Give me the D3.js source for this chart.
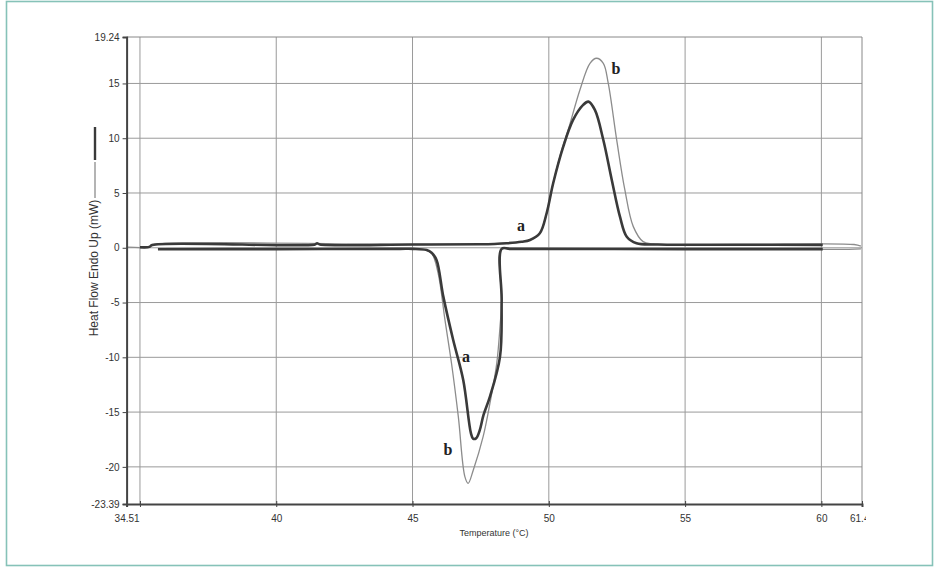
<!DOCTYPE html>
<html>
<head>
<meta charset="utf-8">
<script src="https://cdn.jsdelivr.net/npm/d3@7/dist/d3.min.js"></script>
<style>
  html, body { margin: 0; padding: 0; background: #fff; }
  svg { display: block; }
  .tick text, .axis-title { font-family: "Liberation Sans Narrow", "Arial Narrow", "Liberation Sans", Arial, sans-serif; fill: #333; }
</style>
</head>
<body>
<svg id="chart" width="940" height="572"></svg>
<script>
// Temperature ticks (°C) and heat-flow ticks (mW)
const xTicks = [34.51, 35, 40, 45, 50, 55, 60, 61.49];
const xTickLabels = ["34.51", "", "40", "45", "50", "55", "60", "61.49"];
const yTicks = [-23.39, -20, -15, -10, -5, 0, 5, 10, 15, 19.24];
const yTickLabels = ["-23.39", "-20", "-15", "-10", "-5", "0", "5", "10", "15", "19.24"];
const xGrid = [35, 40, 45, 50, 55, 60];
const yGrid = [-20, -15, -10, -5, 0, 5, 10, 15];

// Sample a: heating scan (endotherm) and cooling scan (exotherm), [T °C, mW]
const aHeating = [
  [35.00, 0.05], [35.35, 0.08], [35.45, 0.26], [41.40, 0.28], [41.50, 0.40], [41.60, 0.30],
  [45.00, 0.30], [47.50, 0.32], [48.00, 0.35], [48.45, 0.41], [49.00, 0.55], [49.31, 0.71],
  [49.67, 1.32], [49.92, 3.15], [50.16, 5.89], [50.53, 9.23], [50.89, 11.67], [51.26, 13.04],
  [51.45, 13.34], [51.69, 12.58], [52.00, 9.84], [52.31, 6.19], [52.61, 2.84], [52.86, 1.01],
  [53.22, 0.41], [54.00, 0.30], [57.00, 0.28], [60.05, 0.26]
];
const aCooling = [
  [60.05, -0.12], [55.00, -0.12], [48.60, -0.10], [48.27, -0.10], [48.27, -4.76],
  [48.21, -9.94], [47.84, -13.59], [47.60, -15.30], [47.47, -16.63], [47.33, -17.40],
  [47.22, -17.42], [47.14, -16.90], [46.86, -12.07], [46.49, -8.40], [46.13, -4.46],
  [45.88, -1.11], [45.70, -0.45], [45.52, -0.20], [45.00, -0.10], [44.54, -0.10],
  [40.00, -0.12], [35.66, -0.14]
];

// Sample b: heating scan and cooling scan, [T °C, mW]
const bHeating = [
  [34.55, 0.05], [35.35, 0.08], [35.45, 0.26], [45.00, 0.30], [48.00, 0.35], [48.45, 0.41],
  [49.31, 0.71], [49.67, 1.32], [49.92, 3.15], [50.16, 5.89], [50.53, 9.40], [50.71, 10.75],
  [51.14, 14.40], [51.51, 16.84], [51.75, 17.30], [52.00, 16.84], [52.18, 15.02],
  [52.49, 9.84], [52.79, 5.28], [53.10, 1.93], [53.46, 0.56], [53.83, 0.35], [57.00, 0.30],
  [61.20, 0.30], [61.45, 0.15]
];
const bCooling = [
  [61.45, -0.10], [61.00, -0.14], [55.00, -0.14], [48.60, -0.10], [48.27, -0.10],
  [48.27, -5.00], [48.21, -7.20], [48.09, -10.54], [47.84, -14.19], [47.59, -17.24],
  [47.23, -20.28], [47.04, -21.50], [46.92, -20.89], [46.68, -15.42], [46.43, -10.54],
  [46.19, -6.59], [45.94, -2.33], [45.70, -0.50], [45.40, -0.15], [45.00, -0.10],
  [40.00, -0.12], [35.80, -0.14]
];

// Curve letters placed at [T °C, mW]
const curveLabels = [
  { text: "a", at: [48.98, 1.99] },
  { text: "b", at: [52.46, 16.41] },
  { text: "a", at: [46.96, -9.97] },
  { text: "b", at: [46.30, -18.46] }
];

const svg = d3.select("#chart");

// outer frame
svg.append("rect")
  .attr("x", 6.5).attr("y", 1.5).attr("width", 926).attr("height", 564)
  .attr("fill", "none").attr("stroke", "#86c2b8").attr("stroke-width", 1.6);

const x = d3.scaleLinear().domain([34.51, 61.49]).range([126.6, 862]);
const y = d3.scaleLinear().domain([-23.39, 19.24]).range([504, 37]);

// the last temperature label is cut at the panel edge
svg.append("clipPath").attr("id", "label-clip")
  .append("rect").attr("x", -20).attr("y", -20).attr("width", 886).attr("height", 80);

// grid
const grid = svg.append("g");
grid.selectAll("line.v").data(xGrid).join("line")
  .attr("x1", d => x(d)).attr("x2", d => x(d))
  .attr("y1", y(19.24)).attr("y2", y(-23.39))
  .attr("stroke", "#9a9a9a").attr("stroke-width", 1);
grid.selectAll("line.h").data(yGrid).join("line")
  .attr("x1", x(34.51)).attr("x2", x(61.49))
  .attr("y1", d => y(d)).attr("y2", d => y(d))
  .attr("stroke", "#9a9a9a").attr("stroke-width", 1);
// top and right border of the plot area
grid.append("line").attr("x1", x(34.51)).attr("x2", x(61.49))
  .attr("y1", y(19.24)).attr("y2", y(19.24)).attr("stroke", "#888").attr("stroke-width", 1);
grid.append("line").attr("x1", x(61.49)).attr("x2", x(61.49))
  .attr("y1", y(19.24)).attr("y2", y(-23.39)).attr("stroke", "#888").attr("stroke-width", 1);

// curves
const line = d3.line()
  .x(d => x(d[0])).y(d => y(d[1]))
  .curve(d3.curveCatmullRom.alpha(0.5));

const curves = svg.append("g").attr("fill", "none").attr("stroke-linejoin", "round");
[bHeating, bCooling].forEach(data => {
  curves.append("path").attr("d", line(data))
    .attr("stroke", "#8c8c8c").attr("stroke-width", 1.3);
});
[aHeating, aCooling].forEach(data => {
  curves.append("path").attr("d", line(data))
    .attr("stroke", "#3a3a3a").attr("stroke-width", 2.6);
});

// axes
const xAxis = d3.axisBottom(x)
  .tickValues(xTicks)
  .tickFormat((d, i) => xTickLabels[i])
  .tickSizeOuter(0).tickSize(3).tickPadding(8);
const gx = svg.append("g").attr("transform", `translate(0,${y(-23.39)})`)
  .attr("clip-path", "url(#label-clip)").call(xAxis);
gx.select(".domain").attr("stroke", "#444").attr("stroke-width", 2);
gx.selectAll(".tick line").attr("y1", -3).attr("stroke", "#444");
gx.selectAll(".tick text").attr("font-size", 10);

const yAxis = d3.axisLeft(y)
  .tickValues(yTicks)
  .tickFormat((d, i) => yTickLabels[i])
  .tickSizeOuter(0).tickSize(4).tickPadding(3);
const gy = svg.append("g").attr("transform", `translate(${x(34.51)},0)`).call(yAxis);
gy.select(".domain").attr("stroke", "#444").attr("stroke-width", 2);
gy.selectAll(".tick line").attr("stroke", "#444");
gy.selectAll(".tick text").attr("font-size", 10);

// axis titles
svg.append("text").attr("class", "axis-title")
  .attr("x", 494).attr("y", 536).attr("text-anchor", "middle")
  .attr("font-size", 9).text("Temperature (°C)");

const yTitle = svg.append("g").attr("transform", "translate(98,268) rotate(-90)");
yTitle.append("text").attr("class", "axis-title")
  .attr("x", 0).attr("y", 0).attr("text-anchor", "middle")
  .attr("font-size", 12).text("Heat Flow Endo Up (mW)");
// series keys beside the title
yTitle.append("line").attr("x1", 70).attr("x2", 106).attr("y1", -3).attr("y2", -3)
  .attr("stroke", "#8c8c8c").attr("stroke-width", 1.3);
yTitle.append("line").attr("x1", 108).attr("x2", 141).attr("y1", -3).attr("y2", -3)
  .attr("stroke", "#3a3a3a").attr("stroke-width", 2.4);

// curve letters
svg.append("g").selectAll("text").data(curveLabels).join("text")
  .attr("x", d => x(d.at[0])).attr("y", d => y(d.at[1]))
  .attr("text-anchor", "middle").attr("dominant-baseline", "central")
  .attr("font-family", "'Liberation Serif', 'Times New Roman', serif")
  .attr("font-weight", "bold").attr("font-size", 16).attr("fill", "#222")
  .text(d => d.text);
</script>
</body>
</html>
